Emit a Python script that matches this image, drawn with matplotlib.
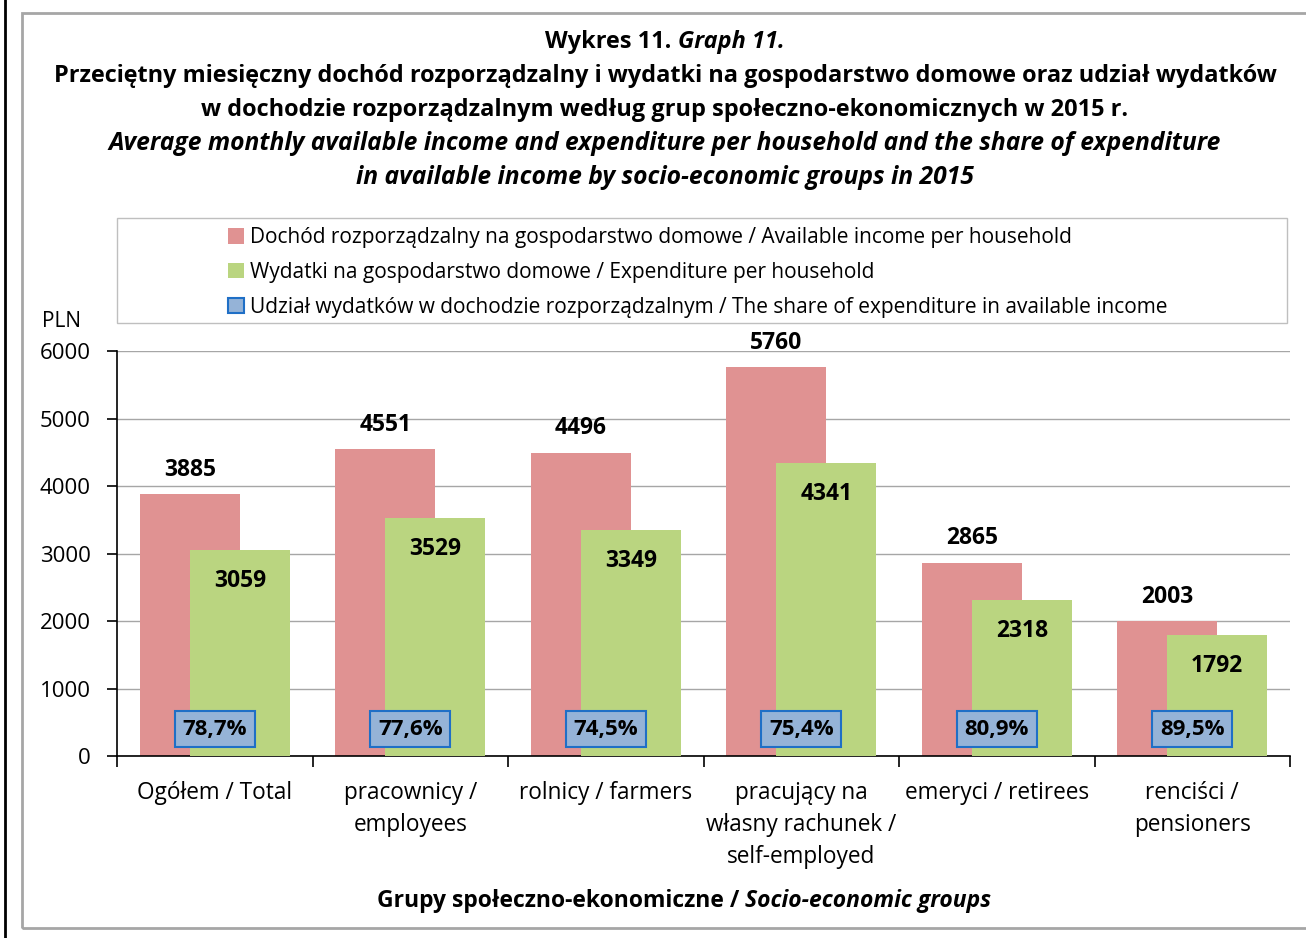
import matplotlib
matplotlib.use("Agg")
import matplotlib.pyplot as plt
from matplotlib.patches import Rectangle, Patch
from matplotlib.lines import Line2D

plt.rcParams['font.family'] = ['Open Sans', 'DejaVu Sans']

categories = ["Ogółem / Total", "pracownicy /\nemployees", "rolnicy / farmers",
              "pracujący na\nwłasny rachunek /\nself-employed", "emeryci / retirees",
              "renciści /\npensioners"]
income = [3885, 4551, 4496, 5760, 2865, 2003]
expenditure = [3059, 3529, 3349, 4341, 2318, 1792]
share = ["78,7%", "77,6%", "74,5%", "75,4%", "80,9%", "89,5%"]

pink = "#e09292"
green = "#bad580"
blue = "#95b3d7"
blue_edge = "#1f6fc6"

W, H = 1306, 938
fig = plt.figure(figsize=(W / 100, H / 100), dpi=100)
renderer = fig.canvas.get_renderer()


def two_part(xc_px, y_px, a, b, size, a_style="normal", b_style="italic"):
    """Draw text a (upright) followed by b (italic), centred as a whole at xc_px."""
    t1 = fig.text(0, 1 - y_px / H, a, ha="left", va="center", fontsize=size,
                  fontweight="bold", style=a_style)
    t2 = fig.text(0, 1 - y_px / H, b, ha="left", va="center", fontsize=size,
                  fontweight="bold", style=b_style)
    w1 = t1.get_window_extent(renderer).width
    w2 = t2.get_window_extent(renderer).width
    x0 = xc_px - (w1 + w2) / 2
    t1.set_x(x0 / W)
    t2.set_x((x0 + w1) / W)


# outer frame
fig.add_artist(Rectangle((22 / W, 1 - 928 / H), (1330 - 22) / W, (928 - 13) / H,
                         transform=fig.transFigure, fill=False, edgecolor="#a6a6a6", lw=2))
fig.add_artist(Line2D([5 / W, 5 / W], [0, 1], transform=fig.transFigure, color="black", lw=2))

ax = fig.add_axes([117 / W, 1 - 756 / H, (1290 - 117) / W, (756 - 351) / H])

x = list(range(len(categories)))
bw = 0.51
off = 0.128
ax.bar([i - off for i in x], income, width=bw, color=pink, zorder=2)
ax.bar([i + off for i in x], expenditure, width=bw, color=green, zorder=3)

for i in x:
    ax.text(i - off, income[i] + 180, str(income[i]), ha="center", va="bottom",
            fontsize=16.5, fontweight="bold", zorder=5)
    ax.text(i + off, expenditure[i] - 460, str(expenditure[i]), ha="center", va="center",
            fontsize=16.5, fontweight="bold", zorder=5)
    ax.text(i, 400, share[i], ha="center", va="center", fontsize=16, fontweight="bold", zorder=6,
            bbox=dict(boxstyle="square,pad=0.35", facecolor=blue, edgecolor=blue_edge, lw=1.5))

ax.set_xlim(-0.5, len(categories) - 0.5)
ax.set_ylim(0, 6000)
ax.set_yticks(range(0, 6001, 1000))
ax.tick_params(axis="y", labelsize=16, length=7, direction="out", width=1.2, pad=12)
ax.yaxis.grid(True, color="#a6a6a6", lw=1, zorder=0)
ax.set_axisbelow(True)
ax.set_xticks([i - 0.5 for i in range(len(categories) + 1)], minor=False)
ax.set_xticklabels([])
ax.tick_params(axis="x", length=8, direction="out", width=1.2)
for i, c in enumerate(categories):
    ax.text(i, -365, c, ha="center", va="top", fontsize=16.3, linespacing=1.46)
for s in ["top", "right"]:
    ax.spines[s].set_visible(False)
ax.spines["left"].set_linewidth(1.2)
ax.spines["bottom"].set_linewidth(1.2)

# titles
two_part(665, 42, "Wykres 11. ", "Graph 11.", 16.9)
fig.text(665 / W, 1 - 76 / H, "Przeciętny miesięczny dochód rozporządzalny i wydatki na gospodarstwo domowe oraz udział wydatków",
         ha="center", va="center", fontsize=16.9, fontweight="bold")
fig.text(665 / W, 1 - 110 / H, "w dochodzie rozporządzalnym według grup społeczno-ekonomicznych w 2015 r.",
         ha="center", va="center", fontsize=16.9, fontweight="bold")
fig.text(665 / W, 1 - 144 / H, "Average monthly available income and expenditure per household and the share of expenditure",
         ha="center", va="center", fontsize=17.7, fontweight="bold", style="italic")
fig.text(665 / W, 1 - 178 / H, "in available income by socio-economic groups in 2015",
         ha="center", va="center", fontsize=17.7, fontweight="bold", style="italic")

fig.text(62 / W, 1 - 321 / H, "PLN", ha="center", va="center", fontsize=15)

two_part(684, 901, "Grupy społeczno-ekonomiczne / ", "Socio-economic groups", 16.5)

# legend
fig.add_artist(Rectangle((117 / W, 1 - 323 / H), (1287 - 117) / W, (323 - 218) / H,
                         transform=fig.transFigure, fill=False, edgecolor="#bfbfbf", lw=1))
handles = [Patch(facecolor=pink, edgecolor="none"),
           Patch(facecolor=green, edgecolor="none"),
           Patch(facecolor=blue, edgecolor=blue_edge, lw=1.5)]
labels = ["Dochód rozporządzalny na gospodarstwo domowe / Available income per household",
          "Wydatki na gospodarstwo domowe / Expenditure per household",
          "Udział wydatków w dochodzie rozporządzalnym / The share of expenditure in available income"]
fig.legend(handles, labels, loc="upper left", bbox_to_anchor=(222 / W, 1 - 221 / H),
           frameon=False, fontsize=15, handlelength=0.75, handleheight=0.75, handletextpad=0.3,
           labelspacing=0.66, borderaxespad=0, borderpad=0.3)

fig.savefig("out.png", dpi=100)
